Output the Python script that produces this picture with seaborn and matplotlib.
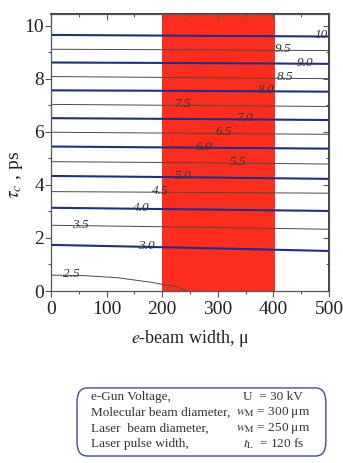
import numpy as np
import pandas as pd
import matplotlib
matplotlib.use("Agg")
import matplotlib.pyplot as plt
from matplotlib.patches import FancyBboxPatch
import seaborn as sns

# ---- data ----
levels = [10.0, 9.5, 9.0, 8.5, 8.0, 7.5, 7.0, 6.5, 6.0, 5.5, 5.0, 4.5, 4.0, 3.5, 3.0]
line_x = [0, 250, 500]
y_left = [9.66, 9.12, 8.62, 8.09, 7.57, 7.04, 6.52, 5.99, 5.45, 4.88, 4.34, 3.75, 3.14, 2.48, 1.74]
y_mid = [9.63, 9.10, 8.60, 8.05, 7.55, 7.00, 6.49, 5.95, 5.41, 4.84, 4.29, 3.72, 3.08, 2.41, 1.63]
y_right = [9.60, 9.07, 8.57, 8.01, 7.52, 6.96, 6.45, 5.91, 5.37, 4.79, 4.23, 3.69, 3.02, 2.33, 1.51]
low_level = 2.5
low_x = [0, 60, 120, 180, 200, 225, 243]
low_y = [0.60, 0.58, 0.50, 0.33, 0.25, 0.18, 0.0]
label_x = {10.0: 486, 9.5: 417, 9.0: 457, 8.5: 421, 8.0: 386, 7.5: 237, 7.0: 348,
           6.5: 311, 6.0: 275, 5.5: 337, 5.0: 237, 4.5: 197, 4.0: 162, 3.5: 52,
           3.0: 172, 2.5: 36}
band = (200, 403)
x_ticks = [0, 100, 200, 300, 400, 500]
y_ticks = [0, 2, 4, 6, 8, 10]
info_left = ["e-Gun Voltage,", "Molecular beam diameter,", "Laser  beam diameter,", "Laser pulse width,"]
info_right = [r"U  = 30 kV", r"$w_{\rm M}$ = 300 μm", r"$w_{\rm M}$ = 250 μm", r"$t_{\rm L}$  = 120 fs"]

# ---- style ----
sns.set_theme(style="ticks")
plt.rcParams["font.family"] = ["Liberation Serif", "DejaVu Serif"]
plt.rcParams["mathtext.fontset"] = "stix"

fig = plt.figure(figsize=(3.43, 4.63), dpi=100)
ax = fig.add_axes([51/343, 1-291/463, 278/343, 277/463])

ax.axvspan(band[0], band[1], color="#fd2d1e", lw=0, zorder=0)

rows = []
for i, lv in enumerate(levels):
    for xx, yy in zip(line_x, [y_left[i], y_mid[i], y_right[i]]):
        rows.append({"level": lv, "x": xx, "y": yy})
for xx, yy in zip(low_x, low_y):
    rows.append({"level": low_level, "x": xx, "y": yy})
df = pd.DataFrame(rows)

for lv, g in df.groupby("level"):
    major = float(lv).is_integer()
    sns.lineplot(data=g, x="x", y="y", ax=ax, estimator=None, sort=False,
                 color="#1c2f8c" if major else "#4a4a4a",
                 lw=1.5 if major else 0.7, zorder=2)
    lx = label_x[lv]
    ly = np.interp(lx, g["x"].values, g["y"].values)
    txt = "10" if lv == 10 else f"{lv:.1f}"
    ax.text(lx, ly + 0.04, txt, fontsize=9.5, style="italic", color="#333333",
            ha="center", va="center", zorder=3)

ax.set_xlim(0, 500)
ax.set_ylim(0, 10.45)
ax.set_xticks(x_ticks)
ax.set_yticks(y_ticks)
ax.set_xticks(np.arange(50, 500, 100), minor=True)
ax.set_yticks(np.arange(1, 10.5, 2), minor=True)
ax.tick_params(which="both", direction="out", labelsize=14, color="#555555",
               labelcolor="#222222", width=0.8)
ax.tick_params(which="major", length=4)
ax.tick_params(axis="y", which="major", pad=1)
ax.tick_params(axis="x", which="major", pad=3)
ax.tick_params(which="minor", length=2.5)
for s in ax.spines.values():
    s.set_visible(True)
    s.set_color("#555555")
    s.set_linewidth(0.9)

top = ax.secondary_xaxis("top")
top.set_xticks(x_ticks)
top.set_xticks(np.arange(50, 500, 100), minor=True)
top.tick_params(which="both", direction="in", labeltop=False, color="#555555", width=0.8)
top.tick_params(which="major", length=4)
top.tick_params(which="minor", length=2.5)
right = ax.secondary_yaxis("right")
right.set_yticks(y_ticks)
right.set_yticks(np.arange(1, 10.5, 2), minor=True)
right.tick_params(which="both", direction="in", labelright=False, color="#555555", width=0.8)
right.tick_params(which="major", length=4)
right.tick_params(which="minor", length=2.5)

ax.set_xlabel(r"$e$-beam width, μ", fontsize=13, color="#222222")
ax.xaxis.set_label_coords(0.5, -0.135)
ax.set_ylabel(r"$\tau_c$ , ps", fontsize=14, color="#222222")
ax.yaxis.set_label_coords(-0.095, 0.42)

# info box
box = FancyBboxPatch((0.2245, 0.0151), 0.7255, 0.147, transform=fig.transFigure,
                     boxstyle="round,pad=0.0,rounding_size=0.03",
                     fc="white", ec="#3a4fa0", lw=1.0)
fig.patches.append(box)
ys = [397.3, 412.7, 428.3, 444.0]
rx = [243, 236, 236, 243]
for i in range(4):
    fig.text(91/343, 1 - ys[i]/463, info_left[i], fontsize=9.5, color="#333333",
             ha="left", va="center")
    fig.text(rx[i]/343, 1 - ys[i]/463, info_right[i], fontsize=9.5, color="#333333",
             ha="left", va="center")

fig.savefig("out.png", dpi=100)
